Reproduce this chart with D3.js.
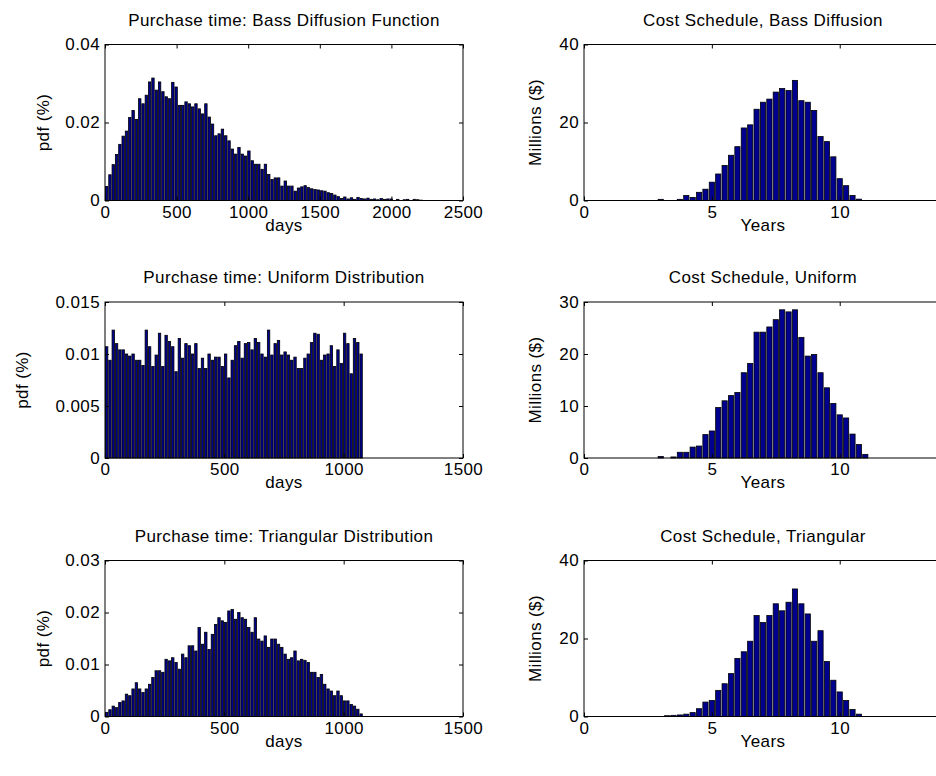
<!DOCTYPE html>
<html>
<head>
<meta charset="utf-8">
<script src="https://cdn.jsdelivr.net/npm/d3@7"></script>
<style>
body { margin: 0; background: #fff; }
svg { display: block; font-family: "Liberation Sans", Arial, sans-serif; }
</style>
</head>
<body>
<svg class="chart" width="936" height="776"></svg>
<script>
/*global d3*/

// ---- purchase-time histograms (pdf per bin) ----
var bassBinDays = 23.1;
var bassPdf = [
    0.0036, 0.0066, 0.0092, 0.0118, 0.0144, 0.0165, 0.0178, 0.0213, 0.0231, 0.0208,
    0.0261, 0.0248, 0.0270, 0.0304, 0.0314, 0.0283, 0.0304, 0.0279, 0.0266, 0.0261,
    0.0303, 0.0291, 0.0244, 0.0244, 0.0253, 0.0248, 0.0240, 0.0248, 0.0235, 0.0222,
    0.0248, 0.0214, 0.0196, 0.0166, 0.0171, 0.0183, 0.0166, 0.0153, 0.0132, 0.0119,
    0.0136, 0.0119, 0.0114, 0.0127, 0.0102, 0.0093, 0.0093, 0.0080, 0.0093, 0.0067,
    0.0054, 0.0058, 0.0058, 0.0037, 0.0050, 0.0037, 0.0037, 0.0024, 0.0032,
    0.0035, 0.0038, 0.0033, 0.0030, 0.0028, 0.0027, 0.0025, 0.0024, 0.0020, 0.0018,
    0.0014, 0.0010, 0.0005, 0.0009, 0.0004, 0.0007, 0.0003, 0.0008, 0.0005, 0.0004,
    0.0006, 0.0003, 0.0004, 0.0002, 0.0005, 0.0003, 0.0004, 0.0004, 0.0000, 0.0003,
    0.0000, 0.0002, 0.0003, 0.0000, 0.0003, 0.0002, 0.0001
];

var uniformMaxDay = 1080;
var uniformPdf = [
    0.0107, 0.0094, 0.0123, 0.0110, 0.0104, 0.0104, 0.0100, 0.0098, 0.0100, 0.0094,
    0.0094, 0.0089, 0.0123, 0.0107, 0.0088, 0.0099, 0.0120, 0.0088, 0.0118, 0.0112,
    0.0107, 0.0083, 0.0115, 0.0096, 0.0110, 0.0108, 0.0100, 0.0110, 0.0086, 0.0096,
    0.0086, 0.0100, 0.0094, 0.0097, 0.0097, 0.0088, 0.0100, 0.0077, 0.0094, 0.0108,
    0.0112, 0.0096, 0.0110, 0.0111, 0.0104, 0.0115, 0.0111, 0.0100, 0.0097, 0.0123,
    0.0099, 0.0110, 0.0113, 0.0099, 0.0102, 0.0099, 0.0094, 0.0097, 0.0086,
    0.0086, 0.0096, 0.0100, 0.0111, 0.0120, 0.0119, 0.0094, 0.0099, 0.0100, 0.0108,
    0.0088, 0.0104, 0.0091, 0.0120, 0.0110, 0.0081, 0.0115, 0.0111, 0.0100
];

var triangularMaxDay = 1080;
var triangularPdf = [
    0.0008, 0.0013, 0.0020, 0.0017, 0.0027, 0.0030, 0.0043, 0.0040, 0.0053, 0.0065,
    0.0053, 0.0046, 0.0053, 0.0062, 0.0075, 0.0088, 0.0088, 0.0085, 0.0110, 0.0107,
    0.0113, 0.0104, 0.0091, 0.0120, 0.0113, 0.0136, 0.0136, 0.0126, 0.0171, 0.0139,
    0.0162, 0.0129, 0.0158, 0.0177, 0.0190, 0.0184, 0.0181, 0.0203, 0.0206, 0.0187,
    0.0200, 0.0190, 0.0187, 0.0171, 0.0162, 0.0190, 0.0149, 0.0145, 0.0155, 0.0133,
    0.0149, 0.0149, 0.0139, 0.0133, 0.0120, 0.0110, 0.0113, 0.0126, 0.0107, 0.0110,
    0.0108, 0.0104, 0.0085, 0.0085, 0.0075, 0.0081, 0.0062, 0.0053, 0.0049, 0.0040,
    0.0049, 0.0040, 0.0030, 0.0030, 0.0023, 0.0020, 0.0014, 0.0005
];

// ---- cost schedules, quarterly (millions $) ----
var costYears = [3.0, 3.25, 3.5, 3.75, 4.0, 4.25, 4.5, 4.75, 5.0, 5.25, 5.5, 5.75,
    6.0, 6.25, 6.5, 6.75, 7.0, 7.25, 7.5, 7.75, 8.0, 8.25, 8.5, 8.75,
    9.0, 9.25, 9.5, 9.75, 10.0, 10.25, 10.5, 10.75, 11.0];
var costBass = [0.3, 0, 0, 0.3, 1.3, 0.8, 2.1, 2.9, 4.7, 6.8, 9.0, 11.6,
    13.8, 18.6, 19.4, 23.4, 25.2, 26.0, 27.8, 28.7, 28.2, 30.8, 25.6, 25.2,
    23.1, 16.4, 15.1, 11.2, 5.6, 3.8, 1.3, 0.35, 0];
var costUniform = [0.3, 0, 0.2, 1.1, 1.1, 2.1, 2.3, 4.5, 5.2, 9.7, 11.0, 12.0,
    12.6, 16.4, 18.2, 24.2, 24.2, 25.2, 26.6, 28.5, 28.1, 28.5, 23.2, 19.6,
    19.9, 16.4, 13.5, 10.5, 8.3, 7.7, 4.6, 2.6, 0.7];
var costTriangular = [0, 0.2, 0.3, 0.4, 0.6, 1.0, 2.0, 3.7, 4.1, 6.7, 8.4, 11.0,
    14.9, 16.6, 19.3, 25.9, 24.1, 25.9, 28.9, 27.1, 29.3, 32.7, 28.9, 26.3,
    19.3, 22.0, 14.1, 9.3, 6.3, 4.1, 1.8, 0.6, 0];

// ---- axis tick values ----
var bassDayTicks = [0, 500, 1000, 1500, 2000, 2500];
var dayTicks = [0, 500, 1000, 1500];
var yearTicks = [0, 5, 10];

var svg = d3.select(".chart");
var colX = [105, 584];
var rowTop = [44.5, 302, 560.5];
var panelW = 358, panelH = 156;
var fontSize = 17;
var letterSp = "0.4px";
var barColor = "#00008f";

function histBins(values, binDays) {
    return values.map(function (v, i) { return {x0: i * binDays, x1: (i + 1) * binDays, v: v}; });
}
function quarterBins(years, values) {
    return values.map(function (v, i) { return {x0: years[i] - 0.125, x1: years[i] + 0.125, v: v}; });
}

// ylabelX: baseline of the rotated y label, relative to the panel's left edge
var panels = [
    {col: 0, row: 0, title: "Purchase time: Bass Diffusion Function", xlabel: "days", ylabel: "pdf (%)", ylabelX: -56,
        xDomain: [0, 2500], xTicks: bassDayTicks, yDomain: [0, 0.04], yTicks: [0, 0.02, 0.04],
        bins: histBins(bassPdf, bassBinDays), gap: 0.9},
    {col: 0, row: 1, title: "Purchase time: Uniform Distribution", xlabel: "days", ylabel: "pdf (%)", ylabelX: -77,
        xDomain: [0, 1500], xTicks: dayTicks, yDomain: [0, 0.015], yTicks: [0, 0.005, 0.01, 0.015],
        bins: histBins(uniformPdf, uniformMaxDay / uniformPdf.length), gap: 0.9},
    {col: 0, row: 2, title: "Purchase time: Triangular Distribution", xlabel: "days", ylabel: "pdf (%)", ylabelX: -56,
        xDomain: [0, 1500], xTicks: dayTicks, yDomain: [0, 0.03], yTicks: [0, 0.01, 0.02, 0.03],
        bins: histBins(triangularPdf, triangularMaxDay / triangularPdf.length), gap: 0.9},
    {col: 1, row: 0, title: "Cost Schedule, Bass Diffusion", xlabel: "Years", ylabel: "Millions ($)", ylabelX: -43,
        xDomain: [0, 14], xTicks: yearTicks, yDomain: [0, 40], yTicks: [0, 20, 40],
        bins: quarterBins(costYears, costBass), gap: 1.2},
    {col: 1, row: 1, title: "Cost Schedule, Uniform", xlabel: "Years", ylabel: "Millions ($)", ylabelX: -43,
        xDomain: [0, 14], xTicks: yearTicks, yDomain: [0, 30], yTicks: [0, 10, 20, 30],
        bins: quarterBins(costYears, costUniform), gap: 1.2},
    {col: 1, row: 2, title: "Cost Schedule, Triangular", xlabel: "Years", ylabel: "Millions ($)", ylabelX: -43,
        xDomain: [0, 14], xTicks: yearTicks, yDomain: [0, 40], yTicks: [0, 20, 40],
        bins: quarterBins(costYears, costTriangular), gap: 1.2}
];

panels.forEach(drawPanel);

function styleText(sel) {
    return sel.attr("fill", "#000")
        .style("font-size", fontSize + "px")
        .style("letter-spacing", letterSp)
        .style("font-family", "'Liberation Sans', Arial, sans-serif");
}

function drawPanel(p) {
    var left = colX[p.col], top = rowTop[p.row];
    var xScale = d3.scaleLinear().domain(p.xDomain).range([0, panelW]);
    var yScale = d3.scaleLinear().domain(p.yDomain).range([panelH, 0]);

    var g = svg.append("g").attr("transform", "translate(" + left + "," + top + ")");

    // bars
    g.append("g").selectAll("rect")
        .data(p.bins.filter(function (d) { return d.v > 0; }))
        .enter().append("rect")
            .attr("x", function (d) { return xScale(d.x0) + p.gap / 2; })
            .attr("y", function (d) { return yScale(d.v); })
            .attr("width", function (d) { return Math.max(0.5, xScale(d.x1) - xScale(d.x0) - p.gap); })
            .attr("height", function (d) { return yScale(0) - yScale(d.v); })
            .attr("fill", barColor)
            .attr("stroke", "#000")
            .attr("stroke-width", 0.8);

    // box (MATLAB style, ticks inside on all sides)
    g.append("rect")
        .attr("x", 0).attr("y", 0)
        .attr("width", panelW).attr("height", panelH)
        .attr("fill", "none").attr("stroke", "#000").attr("stroke-width", 1);

    var axB = d3.axisBottom(xScale).tickValues(p.xTicks).tickSizeInner(-4).tickSizeOuter(0).tickPadding(5)
        .tickFormat(d3.format("d"));
    var axT = d3.axisTop(xScale).tickValues(p.xTicks).tickSizeInner(-4).tickSizeOuter(0).tickFormat("");
    var axL = d3.axisLeft(yScale).tickValues(p.yTicks).tickSizeInner(-4).tickSizeOuter(0).tickPadding(5)
        .tickFormat(function (d) { return String(d); });
    var axR = d3.axisRight(yScale).tickValues(p.yTicks).tickSizeInner(-4).tickSizeOuter(0).tickFormat("");

    g.append("g").attr("class", "axis").attr("transform", "translate(0," + panelH + ")").call(axB);
    g.append("g").attr("class", "axis").call(axT);
    g.append("g").attr("class", "axis").call(axL);
    g.append("g").attr("class", "axis").attr("transform", "translate(" + panelW + ",0)").call(axR);

    g.selectAll(".axis path").remove();
    g.selectAll(".axis line").attr("stroke", "#000");
    styleText(g.selectAll(".axis text"));

    styleText(g.append("text"))
        .attr("x", panelW / 2).attr("y", -19)
        .attr("text-anchor", "middle")
        .text(p.title);

    styleText(g.append("text"))
        .attr("x", panelW / 2).attr("y", panelH + 30)
        .attr("text-anchor", "middle")
        .text(p.xlabel);

    styleText(g.append("text"))
        .attr("transform", "translate(" + p.ylabelX + "," + (panelH / 2) + ") rotate(-90)")
        .attr("text-anchor", "middle")
        .text(p.ylabel);
}
</script>
</body>
</html>
